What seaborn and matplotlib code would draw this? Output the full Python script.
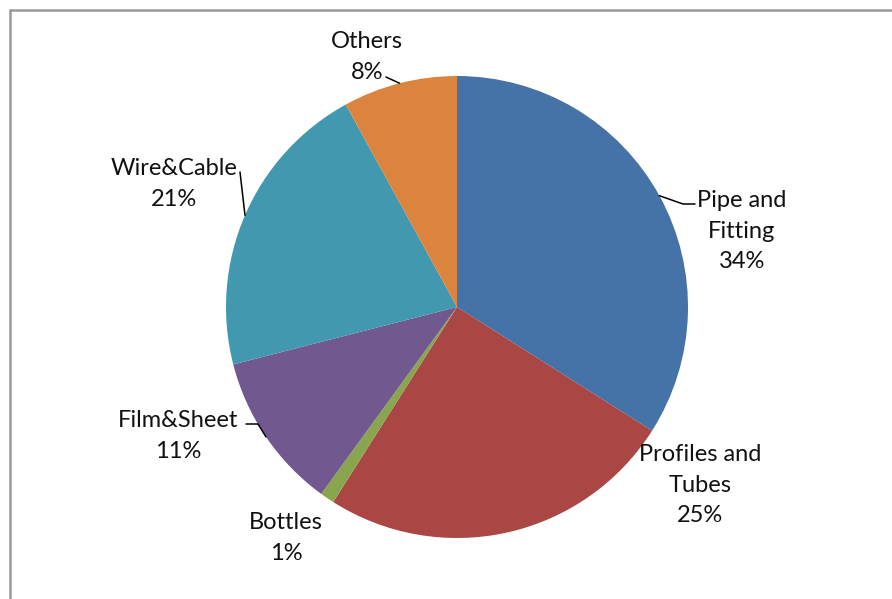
import numpy as np
import matplotlib
matplotlib.use("Agg")
import matplotlib.pyplot as plt
from matplotlib.lines import Line2D
import seaborn as sns

# PVC consumption by application (%)
categories = ["Pipe and\nFitting", "Profiles and\nTubes", "Bottles", "Film&Sheet", "Wire&Cable", "Others"]
shares = [34, 25, 1, 11, 21, 8]
colors = ["#4572A7", "#AA4643", "#89A54E", "#71588F", "#4198AF", "#DB843D"]

sns.set_theme(style="white")
plt.rcParams["font.family"] = ["Lato", "DejaVu Sans"]

W, H = 892, 599
fig = plt.figure(figsize=(W / 100, H / 100), dpi=100)
ax = fig.add_axes([0, 0, 1, 1])

cx, cy, R = 457, H - 307, 231
wedges, _ = ax.pie(shares, colors=colors, startangle=90, counterclock=False,
                   center=(cx, cy), radius=R, frame=True,
                   wedgeprops=dict(linewidth=0))
ax.set_xlim(0, W)
ax.set_ylim(0, H)
ax.set_aspect("equal")
ax.axis("off")

# label anchor (text centre) and optional leader elbow for each slice
label_pos = [(742, H - 231), (700, H - 485), (286, H - 538), (178, H - 436), (174, H - 184), (367, H - 57)]
elbows = [[(695, H - 204), (683, H - 204)], None, None,
          [(246, H - 424), (258, H - 424)], [(240, H - 172)], [(386, H - 77)]]

for w, lab, val, pos, elb in zip(wedges, categories, shares, label_pos, elbows):
    ax.text(pos[0], pos[1], f"{lab}\n{val}%", ha="center", va="center",
            fontsize=17, color="#111111", linespacing=1.57)
    if elb:
        mid = np.deg2rad((w.theta1 + w.theta2) / 2)
        edge = (cx + R * np.cos(mid), cy + R * np.sin(mid))
        pts = elb + [edge]
        ax.plot([p[0] for p in pts], [p[1] for p in pts], color="black", lw=1.1)

# chart-area frame (left and top edges)
fig.add_artist(Line2D([9.5 / W, 9.5 / W], [0, 1 - 10 / H], transform=fig.transFigure,
                      color="#9a9a9a", lw=1.8))
fig.add_artist(Line2D([9.5 / W, 1], [1 - 10 / H, 1 - 10 / H], transform=fig.transFigure,
                      color="#9a9a9a", lw=1.8))

fig.savefig("out.png", dpi=100, facecolor="white")
